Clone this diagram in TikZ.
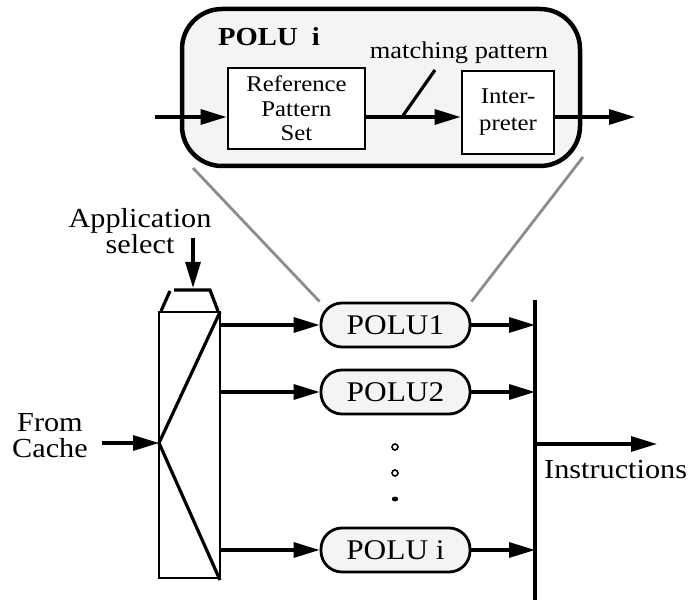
\documentclass[tikz,border=0pt]{standalone}
\usepackage{fontspec}
\setmainfont{Liberation Serif}[FakeStretch=1.1]
\usetikzlibrary{arrows.meta}
\definecolor{boxfill}{HTML}{F4F4F4}
\definecolor{linkgray}{HTML}{8C8C8C}
\tikzset{
  wire/.style={line width=3.2pt, -{Triangle[length=26pt,width=15pt]}},
  plain/.style={line width=3.2pt},
  blockbox/.style={draw, line width=2.8pt, fill=white, inner sep=0pt, align=center,
    font=\fontsize{22.5}{24.5}\selectfont},
  polu/.style={draw, line width=2.8pt, fill=boxfill, rounded corners=21pt,
    minimum width=149pt, minimum height=44pt, inner sep=0pt,
    font=\fontsize{28.5}{28}\selectfont},
  lbl/.style={inner sep=0pt, align=center, font=\fontsize{27.5}{24}\selectfont},
  zoomlink/.style={draw=linkgray, line width=2.8pt}
}
\begin{document}
\begin{tikzpicture}[x=1pt, y=-1pt]
\useasboundingbox (0,0) rectangle (696,601);

% enlarged view of one POLU
\node[draw, line width=4.5pt, fill=boxfill, rounded corners=40pt,
      minimum width=398pt, minimum height=157pt, inner sep=0pt] (outer) at (381,87.5) {};
\node[inner sep=0pt, anchor=west, font=\fontsize{26}{26}\selectfont\bfseries] (title) at (218,37) {POLU\ \ i};
\node[inner sep=0pt, font=\fontsize{24}{24}\selectfont] (mlabel) at (459,53) {matching pattern};
\node[blockbox, minimum width=137pt, minimum height=81pt] (ref) at (296.5,108.5) {Reference\\Pattern\\Set};
\node[blockbox, minimum width=92pt, minimum height=83pt, font=\fontsize{22.5}{27}\selectfont] (interp) at (508,112.5) {Inter-\\preter};
\coordinate (inL) at (155,117);
\coordinate (outR) at (635,117);
\draw[wire] (inL) -- (inL -| ref.west);
\draw[wire] (ref.east |- inL) -- (interp.west |- inL);
\draw[wire] (interp.east |- inL) -- (outR);
\coordinate (slashA) at (402,117);
\coordinate (slashB) at (435,70);
\draw[plain] (slashA) -- (slashB);

% selector
\node[draw, line width=2.8pt, minimum width=61pt, minimum height=266pt, inner sep=0pt] (mux) at (189.5,445) {};
\coordinate (trapBL) at (161,311);
\coordinate (trapTL) at (170,291);
\coordinate (trapTM) at (174,290);
\coordinate (trapTR) at (210,290);
\coordinate (trapBR) at (218,311);
\draw[plain] (trapBL) -- (trapTL);
\draw[plain, line join=miter] (trapTM) -- (trapTR) -- (trapBR);
\coordinate (fanTop) at (220,312);
\coordinate (fanMid) at (159,443);
\coordinate (fanBot) at (220,580);
\draw[plain, line join=miter] (fanTop) -- (fanMid) -- (fanBot);

\node[lbl] (appsel) at (140,231) {Application\\select};
\coordinate (selTop) at (193,238);
\draw[wire] (selTop) -- (193,288);
\node[lbl, font=\fontsize{27.5}{26}\selectfont] (cache) at (50,436) {From\\Cache};
\coordinate (cacheIn) at (102,443);
\draw[wire] (cacheIn) -- (fanMid);

% processing units
\node[polu] (p1) at (395.5,325) {POLU1};
\node[polu] (p2) at (395.5,392) {POLU2};
\node[polu] (pi) at (395.5,550) {POLU i};
\foreach \n in {p1,p2,pi} {
  \draw[wire] (mux.east |- \n) -- (\n.west);
}

% dots
\node[draw, circle, line width=1.6pt, minimum size=6pt, inner sep=0pt] (d1) at (395,447) {};
\node[draw, circle, line width=1.6pt, minimum size=6pt, inner sep=0pt] (d2) at (395,473) {};
\fill (395,499) ellipse (3.2pt and 2.5pt);

% output bus
\coordinate (busTop) at (535,300);
\coordinate (busBot) at (535,600);
\draw[plain] (busTop) -- (busBot);
\foreach \n in {p1,p2,pi} {
  \draw[wire] (\n.east) -- (busTop |- \n);
}
\coordinate (busOut) at (535,444);
\coordinate (instrEnd) at (657,444);
\draw[wire] (busOut) -- (instrEnd);
\node[lbl, anchor=west] (instr) at (544,470) {Instructions};

% links from the enlarged view to POLU1
\coordinate (linkL) at (193,168);
\coordinate (linkR) at (583,157);
\draw[zoomlink] (linkL) -- (p1.north west);
\draw[zoomlink] (linkR) -- (p1.north east);
\end{tikzpicture}
\end{document}
